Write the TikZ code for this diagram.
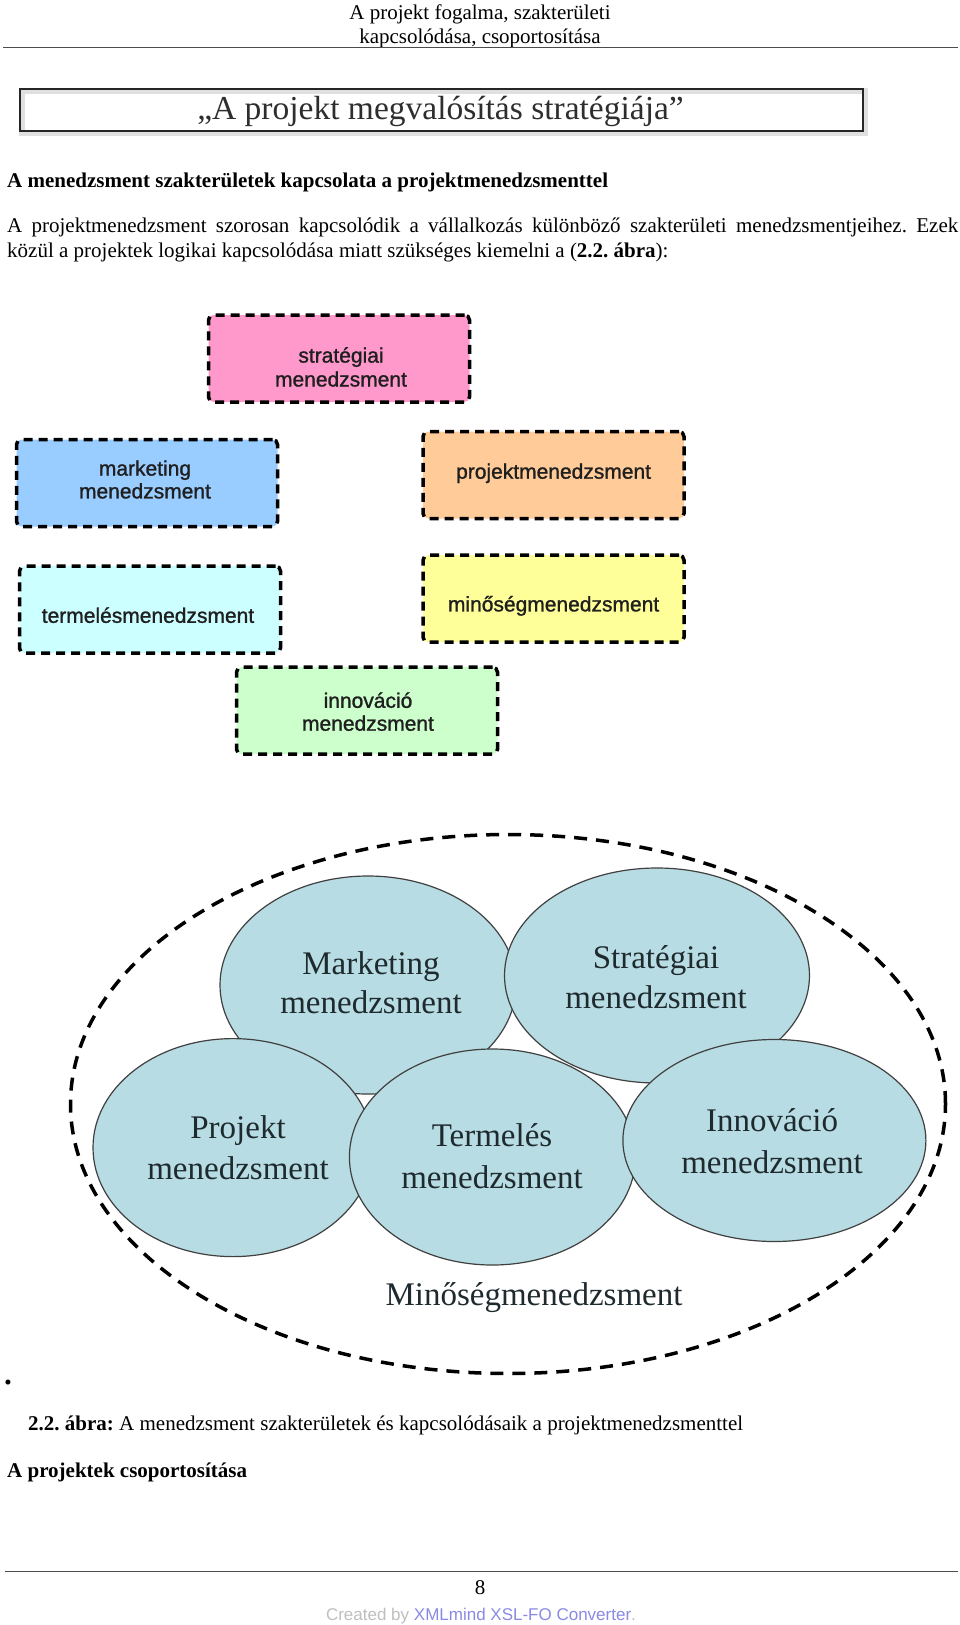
\documentclass[tikz,border=0pt]{standalone}
\usepackage{fontspec}
\setmainfont{Liberation Serif}
\newfontfamily\arialf{Liberation Sans}
\newfontfamily\arialm{Liberation Sans}[BoldFont={Liberation Sans}, BoldFeatures={FakeBold=1.2}]
\usetikzlibrary{shapes.geometric}
\newcommand{\myfs}[2]{\fontsize{#1}{#2}\selectfont}
\definecolor{pinkc}{HTML}{FF99CC}
\definecolor{bluec}{HTML}{99CCFF}
\definecolor{orangec}{HTML}{FFCC99}
\definecolor{cyanc}{HTML}{CCFFFF}
\definecolor{yellowc}{HTML}{FFFF99}
\definecolor{greenc}{HTML}{CCFFCC}
\definecolor{circfill}{HTML}{B8DCE3}
\definecolor{circtext}{HTML}{1E2A2E}
\definecolor{xmlblue}{HTML}{8A8AE6}
\frenchspacing
\begin{document}
\begin{tikzpicture}[x=1pt,y=-1pt,
  txt/.style={inner sep=0pt, anchor=base, font=\myfs{21}{24}},
  txtw/.style={inner sep=0pt, anchor=base west, font=\myfs{21}{24}},
  dbox/.style={draw=black, line width=3.5pt, dash pattern=on 9pt off 6pt, rounded corners=5pt, minimum width=261pt, minimum height=87pt, inner sep=0pt},
  boxtxt/.style={inner sep=0pt, anchor=base, font=\arialm\bfseries\myfs{21}{24}, text=black!88},
  circ/.style={ellipse, draw=black!75, line width=1.2pt, fill=circfill, inner sep=0pt},
  circtxt/.style={inner sep=0pt, anchor=base, font=\myfs{33}{39}, text=circtext},
  rule/.style={line width=1.3pt, black!70}
]
\useasboundingbox (0,0) rectangle (960,1625);
\fill[white] (0,0) rectangle (960,1625);

% header
\node[txt] (h1) at (480,19.5) {A projekt fogalma, szakterületi};
\node[txt] (h2) at (480,43) {kapcsolódása, csoportosítása};
\coordinate (r1a) at (3,47.7);
\coordinate (r1b) at (958,47.7);
\draw[rule] (r1a) -- (r1b);

% title box
\node[draw=black!12, line width=6pt, minimum width=843pt, minimum height=41.5pt, anchor=north west, inner sep=0pt] (tshadow) at (18.7,88) {};
\node[draw=black!85, line width=2pt, minimum width=843pt, minimum height=41.5pt, anchor=north west, inner sep=0pt] (tbox) at (18.7,88) {};
\node[txt, font=\myfs{33.5}{38}, text=black!82] (ttl) at (440.5,119) {„A projekt megvalósítás stratégiája”};

% heading and paragraph
\node[txtw, font=\bfseries\myfs{21}{24}] (hd) at (7,187.4) {A menedzsment szakterületek kapcsolata a projektmenedzsmenttel};
\node[txtw] (p1) at (7,232) {\makebox[951pt][s]{A projektmenedzsment szorosan kapcsolódik a vállalkozás különböző szakterületi menedzsmentjeihez. Ezek}};
\node[txtw] (p2) at (7,257) {közül a projektek logikai kapcsolódása miatt szükséges kiemelni a (\textbf{2.2. ábra}):};

% colored dashed boxes
\node[dbox, fill=pinkc] (bs) at (339,358.5) {};
\node[boxtxt] (bs1) at (341,362.6) {stratégiai};
\node[boxtxt] (bs2) at (341,386.5) {menedzsment};

\node[dbox, fill=bluec] (bm) at (147,483) {};
\node[boxtxt] (bm1) at (145,475.6) {marketing};
\node[boxtxt] (bm2) at (145,498.4) {menedzsment};

\node[dbox, fill=orangec] (bp) at (553.5,475) {};
\node[boxtxt] (bp1) at (553.6,478.7) {projektmenedzsment};

\node[dbox, fill=cyanc] (bt) at (150,609.6) {};
\node[boxtxt] (bt1) at (148,622.8) {termelésmenedzsment};

\node[dbox, fill=yellowc] (bq) at (553.5,598.7) {};
\node[boxtxt] (bq1) at (553.6,611.4) {minőségmenedzsment};

\node[dbox, fill=greenc] (bi) at (367,710.7) {};
\node[boxtxt] (bi1) at (368,707.8) {innováció};
\node[boxtxt] (bi2) at (368,730.7) {menedzsment};

% big dashed ellipse
\node[ellipse, draw=black, line width=3.5pt, dash pattern=on 13pt off 9pt, minimum width=875pt, minimum height=539pt, inner sep=0pt] (outer) at (508,1104) {};

% circles
\node[circ, minimum width=296pt, minimum height=218pt] (cm) at (368,985) {};
\node[circ, minimum width=305pt, minimum height=215pt] (cs) at (657,975.5) {};
\node[circ, minimum width=280pt, minimum height=218pt] (cp) at (233,1147.6) {};
\node[circ, minimum width=286pt, minimum height=216pt] (ct) at (492.4,1157) {};
\node[circ, minimum width=303pt, minimum height=202pt] (ci) at (774.4,1140.5) {};

\node[circtxt] (cm1) at (371,974) {Marketing};
\node[circtxt] (cm2) at (371,1013.5) {menedzsment};
\node[circtxt] (cs1) at (656,968) {Stratégiai};
\node[circtxt] (cs2) at (656,1008) {menedzsment};
\node[circtxt] (cp1) at (238,1138) {Projekt};
\node[circtxt] (cp2) at (238,1179) {menedzsment};
\node[circtxt] (ct1) at (492,1146) {Termelés};
\node[circtxt] (ct2) at (492,1188) {menedzsment};
\node[circtxt] (ci1) at (772,1131.6) {Innováció};
\node[circtxt] (ci2) at (772,1173) {menedzsment};
\node[circtxt] (mq) at (534,1305) {Minőségmenedzsment};

% caption
\node[txt] (bul) at (8,1389) {•};
\node[txtw] (cap) at (28,1430) {\textbf{2.2. ábra:} A menedzsment szakterületek és kapcsolódásaik a projektmenedzsmenttel};
\node[txtw, font=\bfseries\myfs{21}{24}] (hd2) at (7,1477) {A projektek csoportosítása};

% footer
\coordinate (r2a) at (5,1571.6);
\coordinate (r2b) at (958,1571.6);
\draw[rule] (r2a) -- (r2b);
\node[txt] (pg) at (480,1594) {8};
\node[txt, font=\arialf\myfs{17}{20}] (cr) at (481,1620) {{\color{black!25}Created by }{\color{xmlblue}XMLmind XSL-FO Converter}{\color{black!25}.}};
\end{tikzpicture}
\end{document}
